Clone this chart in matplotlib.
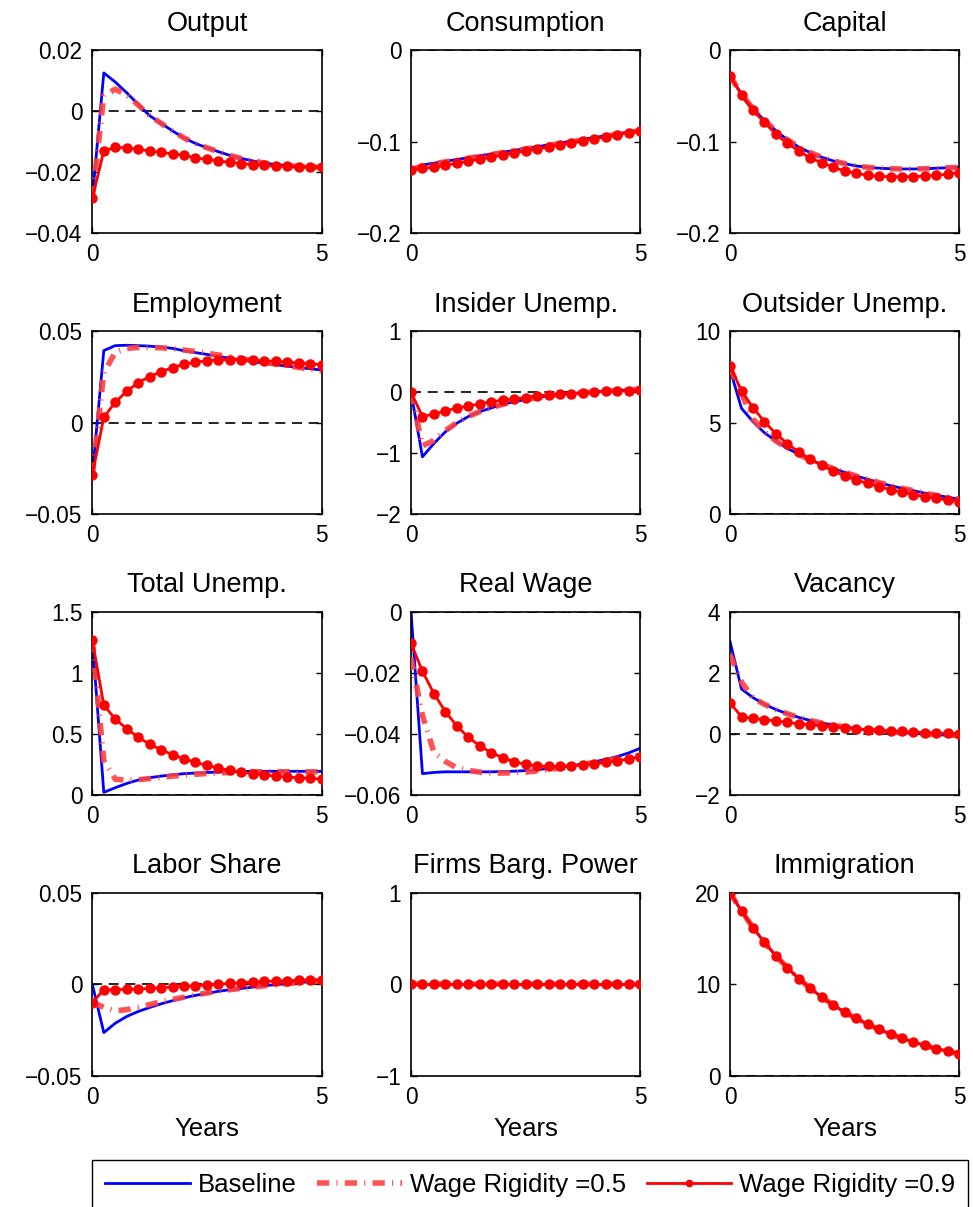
import numpy as np
import matplotlib
matplotlib.use("Agg")
import matplotlib.pyplot as plt
from matplotlib.ticker import FuncFormatter

plt.rcParams['font.family'] = ['Liberation Sans', 'DejaVu Sans']
plt.rcParams['font.size'] = 16.3

# quarterly horizon, 0..5 years
years = np.arange(21) / 4.0

titles = ["Output", "Consumption", "Capital",
          "Employment", "Insider Unemp.", "Outsider Unemp.",
          "Total Unemp.", "Real Wage", "Vacancy",
          "Labor Share", "Firms Barg. Power", "Immigration"]

ylims = [(-0.04, 0.02), (-0.2, 0), (-0.2, 0),
         (-0.05, 0.05), (-2, 1), (0, 10),
         (0, 1.5), (-0.06, 0), (-2, 4),
         (-0.05, 0.05), (-1, 1), (0, 20)]

yticks = [[-0.04, -0.02, 0, 0.02], [-0.2, -0.1, 0], [-0.2, -0.1, 0],
          [-0.05, 0, 0.05], [-2, -1, 0, 1], [0, 5, 10],
          [0, 0.5, 1, 1.5], [-0.06, -0.04, -0.02, 0], [-2, 0, 2, 4],
          [-0.05, 0, 0.05], [-1, 0, 1], [0, 10, 20]]

# Baseline
base = [
    [-0.0285, 0.0125, 0.0095, 0.0060, 0.0022, -0.0015, -0.0040, -0.0065, -0.0088, -0.0106, -0.0120,
     -0.0133, -0.0145, -0.0155, -0.0163, -0.0170, -0.0175, -0.0179, -0.0181, -0.0183, -0.0184],
    [-0.131, -0.1255, -0.1235, -0.1215, -0.1195, -0.1175, -0.1155, -0.1135, -0.1115, -0.1095, -0.1075,
     -0.1055, -0.1035, -0.1015, -0.0995, -0.0975, -0.0955, -0.0935, -0.0915, -0.0895, -0.0875],
    [-0.0284, -0.048, -0.064, -0.077, -0.088, -0.098, -0.106, -0.112, -0.117, -0.121, -0.124,
     -0.1265, -0.128, -0.129, -0.1295, -0.1298, -0.1298, -0.1295, -0.129, -0.1285, -0.128],
    [-0.0285, 0.0393, 0.0420, 0.0422, 0.0420, 0.0417, 0.0412, 0.0405, 0.0392, 0.0382, 0.0372,
     0.0361, 0.0351, 0.0342, 0.0333, 0.0324, 0.0316, 0.0308, 0.0301, 0.0294, 0.0287],
    [0.0, -1.06, -0.84, -0.65, -0.51, -0.40, -0.32, -0.26, -0.20, -0.16, -0.12,
     -0.09, -0.06, -0.04, -0.027, -0.011, 0.005, 0.016, 0.027, 0.038, 0.05],
    [7.9, 5.78, 5.05, 4.45, 4.0, 3.6, 3.27, 2.96, 2.73, 2.49, 2.29,
     2.09, 1.91, 1.73, 1.56, 1.42, 1.29, 1.15, 1.04, 0.93, 0.82],
    [1.268, 0.022, 0.06, 0.095, 0.123, 0.142, 0.155, 0.166, 0.175, 0.18, 0.185,
     0.188, 0.191, 0.193, 0.194, 0.194, 0.194, 0.194, 0.194, 0.194, 0.194],
    [0.0, -0.0530, -0.0526, -0.0524, -0.0524, -0.0524, -0.0524, -0.0524, -0.0523, -0.0522, -0.0520,
     -0.0517, -0.0513, -0.0509, -0.0504, -0.0498, -0.0491, -0.0483, -0.0474, -0.0462, -0.0447],
    [3.02, 1.47, 1.19, 0.97, 0.80, 0.66, 0.54, 0.44, 0.36, 0.29, 0.23,
     0.18, 0.13, 0.10, 0.07, 0.04, 0.02, 0.0, -0.02, -0.05, -0.09],
    [0.0, -0.0263, -0.0212, -0.0175, -0.0148, -0.0126, -0.0106, -0.0089, -0.0073, -0.0060, -0.0049,
     -0.0038, -0.0029, -0.0022, -0.0015, -0.0007, -0.0002, 0.0004, 0.0009, 0.0015, 0.0020],
    [0.0] * 21,
    [20.0, 18.0, 16.2, 14.58, 13.12, 11.81, 10.63, 9.57, 8.61, 7.75, 6.97,
     6.28, 5.65, 5.08, 4.58, 4.12, 3.71, 3.34, 3.0, 2.7, 2.43],
]

# Wage rigidity = 0.5
rig5 = [
    [-0.0285, 0.0050, 0.0072, 0.0052, 0.0020, -0.0015, -0.0040, -0.0065, -0.0088, -0.0106, -0.0120,
     -0.0133, -0.0145, -0.0155, -0.0163, -0.0170, -0.0175, -0.0179, -0.0181, -0.0183, -0.0184],
    [-0.131, -0.1262, -0.1240, -0.1220, -0.1200, -0.1180, -0.1160, -0.1140, -0.1120, -0.1100, -0.1080,
     -0.1060, -0.1040, -0.1020, -0.1000, -0.0980, -0.0960, -0.0940, -0.0920, -0.0900, -0.0878],
    [-0.0284, -0.048, -0.064, -0.077, -0.088, -0.098, -0.106, -0.112, -0.117, -0.121, -0.124,
     -0.1265, -0.128, -0.129, -0.1295, -0.1298, -0.1298, -0.1295, -0.129, -0.1285, -0.128],
    [-0.0285, 0.027, 0.0385, 0.0405, 0.041, 0.041, 0.0408, 0.0403, 0.0396, 0.0388, 0.0379,
     0.0369, 0.0359, 0.0349, 0.0339, 0.0329, 0.0319, 0.031, 0.0301, 0.0292, 0.0282],
    [0.0, -0.88, -0.79, -0.63, -0.50, -0.40, -0.32, -0.26, -0.20, -0.16, -0.12,
     -0.09, -0.06, -0.04, -0.027, -0.011, 0.005, 0.016, 0.027, 0.038, 0.05],
    [8.0, 6.6, 5.2, 4.5, 4.0, 3.6, 3.27, 2.96, 2.73, 2.49, 2.29,
     2.09, 1.91, 1.73, 1.56, 1.42, 1.29, 1.15, 1.04, 0.93, 0.82],
    [1.268, 0.28, 0.13, 0.12, 0.125, 0.135, 0.145, 0.155, 0.163, 0.17, 0.176,
     0.181, 0.185, 0.188, 0.19, 0.191, 0.191, 0.191, 0.19, 0.19, 0.19],
    [-0.015, -0.034, -0.046, -0.049, -0.0511, -0.0519, -0.0525, -0.0528, -0.0528, -0.0527, -0.0525,
     -0.0521, -0.0517, -0.0512, -0.0506, -0.0500, -0.0493, -0.0487, -0.0481, -0.0476, -0.0470],
    [2.6, 1.7, 1.18, 0.97, 0.80, 0.66, 0.54, 0.44, 0.36, 0.29, 0.23,
     0.18, 0.13, 0.10, 0.07, 0.04, 0.02, 0.0, -0.02, -0.04, -0.05],
    [-0.0098, -0.0125, -0.0144, -0.0138, -0.0125, -0.0110, -0.0095, -0.0082, -0.0070, -0.0058, -0.0047,
     -0.0037, -0.0029, -0.0022, -0.0015, -0.0008, -0.0002, 0.0004, 0.0009, 0.0014, 0.0019],
    [0.0] * 21,
    [20.0, 18.0, 16.2, 14.58, 13.12, 11.81, 10.63, 9.57, 8.61, 7.75, 6.97,
     6.28, 5.65, 5.08, 4.58, 4.12, 3.71, 3.34, 3.0, 2.7, 2.43],
]

# Wage rigidity = 0.9
rig9 = [
    [-0.0285, -0.0130, -0.0119, -0.0120, -0.0125, -0.0130, -0.0135, -0.0140, -0.0145, -0.0153, -0.0158,
     -0.0163, -0.0168, -0.0172, -0.0175, -0.0178, -0.0180, -0.0181, -0.0182, -0.0183, -0.0183],
    [-0.131, -0.129, -0.128, -0.1258, -0.1236, -0.1213, -0.1191, -0.1169, -0.1147, -0.1124, -0.1102,
     -0.108, -0.1058, -0.1036, -0.1013, -0.0991, -0.0969, -0.0947, -0.0924, -0.0902, -0.088],
    [-0.0284, -0.049, -0.066, -0.079, -0.092, -0.102, -0.110, -0.118, -0.123, -0.128, -0.132,
     -0.1345, -0.1367, -0.138, -0.1382, -0.1382, -0.1382, -0.1375, -0.1367, -0.1356, -0.1338],
    [-0.0285, 0.0029, 0.0111, 0.0171, 0.0218, 0.0251, 0.0278, 0.0300, 0.0318, 0.0329, 0.0338,
     0.0342, 0.0344, 0.0343, 0.0340, 0.0338, 0.0335, 0.0329, 0.0326, 0.0322, 0.0316],
    [0.0, -0.40, -0.36, -0.31, -0.26, -0.23, -0.19, -0.16, -0.13, -0.11, -0.09,
     -0.06, -0.05, -0.035, -0.025, -0.01, 0.0, 0.01, 0.016, 0.02, 0.03],
    [8.09, 6.73, 5.82, 5.05, 4.40, 3.85, 3.40, 3.0, 2.67, 2.36, 2.11,
     1.87, 1.69, 1.51, 1.35, 1.20, 1.07, 0.96, 0.87, 0.78, 0.69],
    [1.268, 0.736, 0.622, 0.543, 0.472, 0.417, 0.371, 0.330, 0.297, 0.267, 0.243,
     0.221, 0.202, 0.188, 0.175, 0.164, 0.155, 0.147, 0.142, 0.136, 0.131],
    [-0.0103, -0.0195, -0.0268, -0.0327, -0.0374, -0.0411, -0.0439, -0.0461, -0.0478, -0.0491, -0.0500,
     -0.0505, -0.0506, -0.0506, -0.0505, -0.0502, -0.0498, -0.0493, -0.0488, -0.0482, -0.0474],
    [1.02, 0.56, 0.51, 0.47, 0.42, 0.38, 0.33, 0.30, 0.27, 0.23, 0.20,
     0.17, 0.14, 0.12, 0.10, 0.08, 0.07, 0.04, 0.03, 0.02, 0.01],
    [-0.0099, -0.0029, -0.0029, -0.0027, -0.0026, -0.0022, -0.0018, -0.0015, -0.0011, -0.0007, -0.0004,
     0.0002, 0.0005, 0.0009, 0.0013, 0.0016, 0.0018, 0.0020, 0.0022, 0.0024, 0.0026],
    [0.0] * 21,
    [20.0, 18.0, 16.2, 14.58, 13.12, 11.81, 10.63, 9.57, 8.61, 7.75, 6.97,
     6.28, 5.65, 5.08, 4.58, 4.12, 3.71, 3.34, 3.0, 2.7, 2.43],
]

labels = ["Baseline", "Wage Rigidity =0.5", "Wage Rigidity =0.9"]

fig = plt.figure(figsize=(9.73, 12.07), dpi=100)

lefts = [0.0949, 0.4224, 0.7503]
bottoms = [0.8067, 0.5739, 0.3413, 0.1085]
w, h = 0.2356, 0.1519

fmt = FuncFormatter(lambda v, p: ('%g' % v).replace('-', '\u2212'))

for i in range(12):
    r, c = divmod(i, 3)
    ax = fig.add_axes([lefts[c], bottoms[r], w, h])
    ax.axhline(0, color='k', lw=1.2, dashes=(6, 4), zorder=1)
    l1, = ax.plot(years, base[i], color='b', lw=2, zorder=2)
    l2, = ax.plot(years, rig5[i], color=(1, 0.25, 0.25), lw=4, alpha=0.9,
                  dashes=(2.2, 1.3, 0.2, 1.3), zorder=3)
    l3, = ax.plot(years, rig9[i], color='r', lw=2, marker='o', ms=6.5,
                  mfc='r', mec='r', zorder=4)
    ax.set_xlim(0, 5)
    ax.set_ylim(*ylims[i])
    ax.set_xticks([0, 5])
    ax.set_yticks(yticks[i])
    ax.yaxis.set_major_formatter(fmt)
    ax.tick_params(direction='in', top=True, right=True, length=4, width=1, pad=7)
    for s in ax.spines.values():
        s.set_linewidth(1.2)
    ax.set_title(titles[i], pad=14)
    if r == 3:
        ax.set_xlabel("Years", fontsize=18.5, labelpad=6)

fig.legend([l1, l2, l3], labels, loc='upper left', ncol=3, mode='expand',
           bbox_to_anchor=(0.0946, 0.0, 0.9003, 0.0389), borderaxespad=0,
           fancybox=False, edgecolor='k', framealpha=1, fontsize=18.5,
           handlelength=3.3, handletextpad=0.3, borderpad=0.5,
           numpoints=1, markerscale=0.7)

fig.savefig("out.png", dpi=100)
